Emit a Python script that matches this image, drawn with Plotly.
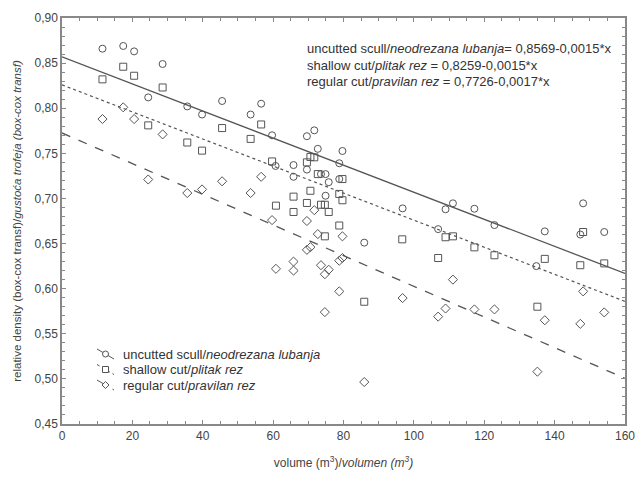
import plotly.graph_objects as go

# ---- data ----
uncut_x = [11.5, 17.4, 20.5, 24.5, 28.6, 35.6, 39.8, 45.5, 53.6, 56.6, 59.7, 60.7, 65.8, 65.8,
           69.6, 69.6, 71.7, 72.7, 73.6, 74.9, 74.9, 75.8, 78.8, 78.8, 79.7, 85.9, 96.8, 106.9,
           109.0, 111.1, 117.2, 122.9, 134.8, 137.2, 147.3, 148.1, 154.1]
uncut_y = [0.866, 0.869, 0.863, 0.812, 0.849, 0.802, 0.793, 0.808, 0.793, 0.805, 0.770, 0.736, 0.737, 0.724,
           0.769, 0.732, 0.7755, 0.755, 0.727, 0.727, 0.703, 0.718, 0.739, 0.7215, 0.7526, 0.651, 0.689, 0.666,
           0.688, 0.6946, 0.6886, 0.6705, 0.625, 0.6635, 0.660, 0.6946, 0.6628]

shallow_x = [11.5, 17.4, 20.5, 24.5, 28.6, 35.6, 39.8, 45.5, 53.6, 56.6, 59.7, 60.8, 65.8, 65.8,
             69.6, 69.6, 70.6, 70.6, 71.7, 72.7, 73.6, 74.7, 74.7, 75.8, 78.8, 78.8, 79.7, 79.7,
             85.9, 96.7, 106.9, 109.0, 111.1, 117.2, 122.9, 135.1, 137.2, 147.3, 148.1, 154.1]
shallow_y = [0.832, 0.846, 0.836, 0.781, 0.823, 0.762, 0.753, 0.778, 0.766, 0.782, 0.741, 0.692, 0.702, 0.685,
             0.740, 0.695, 0.746, 0.7085, 0.7456, 0.727, 0.693, 0.693, 0.658, 0.685, 0.705, 0.670, 0.7215, 0.698,
             0.5855, 0.6547, 0.634, 0.657, 0.658, 0.6458, 0.637, 0.580, 0.633, 0.626, 0.6628, 0.628]

regular_x = [11.5, 17.4, 20.5, 24.5, 28.6, 35.6, 39.8, 45.5, 53.6, 56.6, 59.7, 60.8, 65.8, 65.8,
             69.6, 69.6, 70.6, 71.7, 72.7, 73.6, 74.7, 74.7, 75.8, 78.8, 78.8, 79.7, 79.7,
             85.9, 96.8, 106.9, 109.0, 111.1, 117.2, 122.9, 135.1, 137.2, 147.3, 148.1, 154.1]
regular_y = [0.788, 0.801, 0.788, 0.721, 0.771, 0.706, 0.710, 0.719, 0.706, 0.724, 0.676, 0.622, 0.630, 0.620,
             0.675, 0.643, 0.646, 0.687, 0.6605, 0.626, 0.616, 0.574, 0.621, 0.631, 0.597, 0.634, 0.658,
             0.4965, 0.5896, 0.569, 0.578, 0.610, 0.577, 0.577, 0.508, 0.565, 0.561, 0.597, 0.5737]

names_en = ["uncutted scull", "shallow cut", "regular cut"]
names_hr = ["neodrezana lubanja", "plitak rez", "pravilan rez"]
intercepts = [0.8569, 0.8259, 0.7726]
slopes = [-0.0015, -0.0015, -0.0017]
x_range = [0, 160]
y_range = [0.45, 0.90]
y_ticks = [0.45, 0.50, 0.55, 0.60, 0.65, 0.70, 0.75, 0.80, 0.85, 0.90]
x_ticks = [0, 20, 40, 60, 80, 100, 120, 140, 160]

# ---- styles ----
grey = "#555555"
FONT = "Liberation Sans, Arial, sans-serif"
symbols = ["circle-open", "square-open", "diamond-open"]
dashes = ["solid", "dot", "dash"]
widths = [1.3, 1.2, 1.3]

W, H = 638, 478
ML, MR, MT, MB = 62, 13, 18, 54
PW, PH = W - ML - MR, H - MT - MB

def px_to_paper(xp, yp):
    return (xp - ML) / PW, (H - MB - yp) / PH

fig = go.Figure()
series = [(uncut_x, uncut_y), (shallow_x, shallow_y), (regular_x, regular_y)]
for i, (xs, ys) in enumerate(series):
    fig.add_trace(go.Scatter(x=xs, y=ys, mode="markers", showlegend=False,
                             marker=dict(symbol=symbols[i], size=7, color=grey,
                                         line=dict(width=1, color=grey))))
    lx = x_range
    ly = [intercepts[i] + slopes[i] * v for v in lx]
    fig.add_trace(go.Scatter(x=lx, y=ly, mode="lines", showlegend=False,
                             line=dict(color=grey, dash=dashes[i], width=widths[i])))

def fmt(v):
    return f"{v:.4f}".replace(".", ",")

# equations (top right)
for i in range(3):
    sep = "= " if i == 0 else " = "
    t = f"{names_en[i]}/<i>{names_hr[i]}</i>{sep}{fmt(intercepts[i])}-{fmt(-slopes[i])}*x"
    px, py = px_to_paper(305, 49 + 16 * i)
    fig.add_annotation(xref="paper", yref="paper", x=px, y=py,
                       xanchor="left", yanchor="middle", showarrow=False, text=t,
                       font=dict(family=FONT, size=13, color="#333333"))

# legend (bottom left): short slanted line with marker + label
shapes = []
for i in range(3):
    yc = 354 + 15.5 * i
    x0, y0 = px_to_paper(97, yc - 5)
    x1, y1 = px_to_paper(114, yc + 5)
    shapes.append(dict(type="line", xref="paper", yref="paper", x0=x0, y0=y0, x1=x1, y1=y1,
                       line=dict(color=grey, width=1, dash=dashes[i])))
    cx, cy = px_to_paper(105.5, yc)
    common = dict(xref="paper", yref="paper", xsizemode="pixel", ysizemode="pixel",
                  xanchor=cx, yanchor=cy, fillcolor="white", line=dict(color=grey, width=1))
    if i == 0:
        shapes.append(dict(type="circle", x0=-3, x1=3, y0=-3, y1=3, **common))
    elif i == 1:
        shapes.append(dict(type="rect", x0=-3, x1=3, y0=-3, y1=3, **common))
    else:
        shapes.append(dict(type="path", path="M 0,-3.5 L 3.5,0 L 0,3.5 L -3.5,0 Z", **common))
    tx, ty = px_to_paper(121, yc)
    fig.add_annotation(xref="paper", yref="paper", x=tx, y=ty, xanchor="left", yanchor="middle",
                       showarrow=False, text=f"{names_en[i]}/<i>{names_hr[i]}</i>",
                       font=dict(family=FONT, size=13, color="#333333"))

axis_common = dict(showline=True, linecolor="#888888", linewidth=1.5, mirror="ticks",
                   ticks="inside", ticklen=4, tickcolor="#888888", showgrid=False, zeroline=False,
                   automargin=False,
                   tickfont=dict(family=FONT, size=12, color="#444444"))

fig.update_layout(
    width=W, height=H,
    margin=dict(l=ML, r=MR, t=MT, b=MB, autoexpand=False),
    paper_bgcolor="white", plot_bgcolor="white",
    separators=", ",
    showlegend=False,
    shapes=shapes,
    font=dict(family=FONT, size=12, color="#444444"),
    xaxis=dict(range=x_range, tickvals=x_ticks, **axis_common,
               minor=dict(dtick=5, ticks="inside", ticklen=3, tickcolor="#888888"),
               title=dict(text="volume (m<sup>3</sup>)/<i>volumen (m<sup>3</sup>)</i>",
                          font=dict(size=12, color="#444444"), standoff=16)),
    yaxis=dict(range=y_range, tickvals=y_ticks, tickformat=".2f", **axis_common,
               minor=dict(dtick=0.01, ticks="inside", ticklen=3, tickcolor="#888888"),
               title=dict(text="relative density (box-cox transf)/<i>gustoća trofeja (box-cox transf)</i>",
                          font=dict(size=11.5, color="#444444"), standoff=10)),
)

fig.write_html("out.html")
